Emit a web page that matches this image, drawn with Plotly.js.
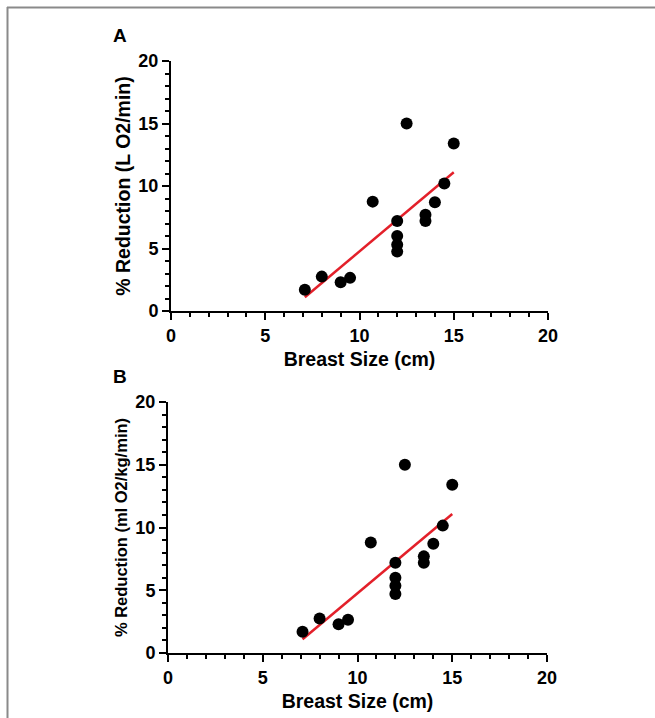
<!DOCTYPE html>
<html>
<head>
<meta charset="utf-8">
<script src="https://cdn.plot.ly/plotly-3.0.1.min.js"></script>
<style>
html,body{margin:0;padding:0;background:#fff;}
#chart{width:655px;height:718px;}
</style>
</head>
<body>
<div id="chart"></div>
<script>
// ---- data ----
const breastSizeA = [7.1, 8.0, 9.0, 9.5, 10.7, 12.0, 12.0, 12.0, 12.0, 12.5, 13.5, 13.5, 14.0, 14.5, 15.0];
const reductionL  = [1.7, 2.75, 2.3, 2.65, 8.75, 7.2, 6.0, 5.3, 4.75, 15.0, 7.7, 7.2, 8.7, 10.2, 13.4];
const breastSizeB = [7.1, 8.0, 9.0, 9.5, 10.7, 12.0, 12.0, 12.0, 12.0, 12.5, 13.5, 13.5, 14.0, 14.5, 15.0];
const reductionMl = [1.7, 2.75, 2.3, 2.65, 8.8, 7.2, 6.0, 5.35, 4.7, 15.0, 7.7, 7.2, 8.7, 10.15, 13.4];
const fitXA = [7.1, 15.0];
const fitYA = [1.1, 11.1];
const fitXB = [7.1, 15.0];
const fitYB = [1.1, 11.07];
const tickVals = [0, 5, 10, 15, 20];
const tickText = ['0', '5', '10', '15', '20'];
const xTitle = 'Breast Size (cm)';
const yTitleA = '% Reduction (L O2/min)';
const yTitleB = '% Reduction (ml O2/kg/min)';
const panelLabels = ['A', 'B'];

const FONT = 'Liberation Sans, Arial, sans-serif';
const W = 655, H = 718;

function px(x){ return x / W; }
function py(y){ return 1 - y / H; }

const markerStyle = {color: '#000', size: 12, line: {width: 0}};
const lineStyle = {color: '#e3202a', width: 2.5};

const traces = [
  {x: fitXA, y: fitYA, type: 'scatter', mode: 'lines', line: lineStyle, xaxis: 'x', yaxis: 'y', hoverinfo: 'skip'},
  {x: breastSizeA, y: reductionL, type: 'scatter', mode: 'markers', marker: markerStyle, xaxis: 'x', yaxis: 'y'},
  {x: fitXB, y: fitYB, type: 'scatter', mode: 'lines', line: lineStyle, xaxis: 'x2', yaxis: 'y2', hoverinfo: 'skip'},
  {x: breastSizeB, y: reductionMl, type: 'scatter', mode: 'markers', marker: markerStyle, xaxis: 'x2', yaxis: 'y2'}
];

function axisBase(extra){
  return Object.assign({
    range: [0, 20],
    tickvals: tickVals,
    ticktext: tickText,
    ticks: 'outside',
    ticklen: 7,
    tickwidth: 2,
    tickcolor: '#000',
    showline: true,
    linewidth: 2,
    linecolor: '#000',
    showgrid: false,
    zeroline: false,
    tickfont: {family: FONT, size: 18, color: '#000', weight: 'bold'},
    minor: {dtick: 1, tick0: 0, ticks: 'outside', ticklen: 4, tickwidth: 2, tickcolor: '#000', showgrid: false},
    fixedrange: true
  }, extra);
}

const layout = {
  width: W, height: H,
  margin: {l: 0, r: 0, t: 0, b: 0},
  paper_bgcolor: '#fff',
  plot_bgcolor: '#fff',
  showlegend: false,
  xaxis: axisBase({domain: [px(171), px(548)], anchor: 'y',
    title: {text: xTitle, font: {family: FONT, size: 19.5, color: '#000', weight: 'bold'}, standoff: 8}}),
  yaxis: axisBase({domain: [py(311), py(61)], anchor: 'x',
    title: {text: yTitleA, font: {family: FONT, size: 19.5, color: '#000', weight: 'bold'}, standoff: 3}}),
  xaxis2: axisBase({domain: [px(168), px(547)], anchor: 'y2',
    title: {text: xTitle, font: {family: FONT, size: 19.5, color: '#000', weight: 'bold'}, standoff: 8}}),
  yaxis2: axisBase({domain: [py(653), py(402)], anchor: 'x2',
    title: {text: yTitleB, font: {family: FONT, size: 16.5, color: '#000', weight: 'bold'}, standoff: 4}}),
  annotations: [
    {text: panelLabels[0], xref: 'paper', yref: 'paper', x: px(120), y: py(35), xanchor: 'center', yanchor: 'middle',
     showarrow: false, font: {family: FONT, size: 19, color: '#000', weight: 'bold'}},
    {text: panelLabels[1], xref: 'paper', yref: 'paper', x: px(120), y: py(376), xanchor: 'center', yanchor: 'middle',
     showarrow: false, font: {family: FONT, size: 19, color: '#000', weight: 'bold'}}
  ],
  shapes: [
    {type: 'line', xref: 'paper', yref: 'paper', x0: px(7), x1: 1, y0: py(7.5), y1: py(7.5), line: {color: '#8a8a8a', width: 2}},
    {type: 'line', xref: 'paper', yref: 'paper', x0: px(7.5), x1: px(7.5), y0: py(7), y1: 0, line: {color: '#8a8a8a', width: 2}}
  ]
};

Plotly.newPlot('chart', traces, layout, {displayModeBar: false, staticPlot: true});
</script>
</body>
</html>
